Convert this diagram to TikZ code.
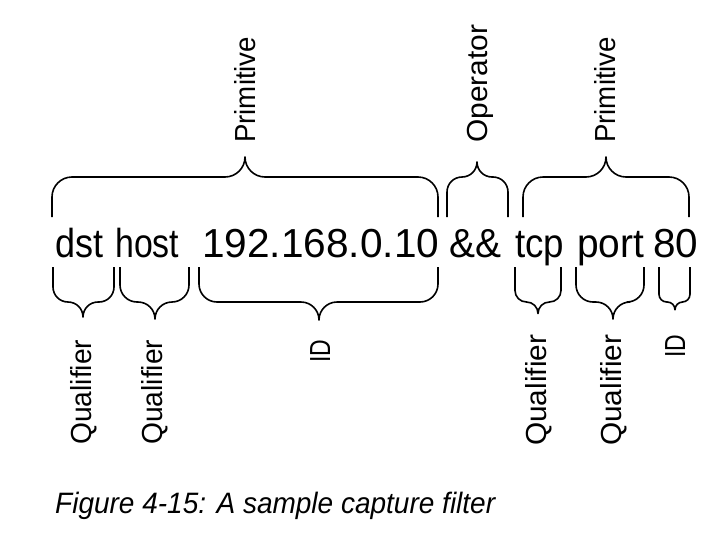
\documentclass[tikz,border=0pt]{standalone}
\usepackage{fontspec}
\setmainfont{Liberation Sans}
\usepackage{graphicx}
\newsavebox\fitbox
\newcommand\fitto[2]{\sbox\fitbox{#2}\pgfmathsetmacro\fitfac{#1/\the\wd\fitbox}\scalebox{\fitfac}[1]{\usebox\fitbox}}
\tikzset{
  brace/.style={line width=1.6pt, line join=round},
  word/.style={inner sep=0pt, anchor=base west, font=\fontsize{40.5}{41}\selectfont},
  lab/.style={inner sep=0pt, anchor=base west, rotate=90, font=\fontsize{29}{30}\selectfont},
  figcap/.style={inner sep=0pt, anchor=base west, font=\itshape\fontsize{29.5}{30}\selectfont}
}
% top brace: x1, tip, x2, r
\newcommand\tbrace[4]{\draw[brace] (#1,217) -- (#1,{177+#4})
  .. controls (#1,{177+0.448*#4}) and ({#1+0.448*#4},177) .. ({#1+#4},177)
  -- ({#2-#4},177)
  .. controls ({#2-0.448*#4},177) and (#2,{177-0.448*#4}) .. (#2,{177-#4})
  .. controls (#2,{177-0.448*#4}) and ({#2+0.448*#4},177) .. ({#2+#4},177)
  -- ({#3-#4},177)
  .. controls ({#3-0.448*#4},177) and (#3,{177+0.448*#4}) .. (#3,{177+#4})
  -- (#3,217);}
% bottom brace: x1, tip, x2, r
\newcommand\bbrace[4]{\draw[brace] (#1,267) -- (#1,{302-#4})
  .. controls (#1,{302-0.448*#4}) and ({#1+0.448*#4},302) .. ({#1+#4},302)
  -- ({#2-#4},302)
  .. controls ({#2-0.448*#4},302) and (#2,{302+0.448*#4}) .. (#2,{302+#4})
  .. controls (#2,{302+0.448*#4}) and ({#2+0.448*#4},302) .. ({#2+#4},302)
  -- ({#3-#4},302)
  .. controls ({#3-0.448*#4},302) and (#3,{302-0.448*#4}) .. (#3,{302-#4})
  -- (#3,267);}
\begin{document}
\begin{tikzpicture}[x=1pt,y=-1pt]
\useasboundingbox[fill=white] (0,0) rectangle (721,536);
% main filter text
\node[word] (dst)  at (55,257)  {\fitto{48}{dst}};
\node[word] (host) at (115,257) {\fitto{64}{host}};
\node[word] (ip)   at (202,257) {\fitto{237}{192.168.0.10}};
\node[word] (and)  at (449,257) {\fitto{52}{\&\&}};
\node[word] (tcp)  at (515,257) {\fitto{49}{tcp}};
\node[word] (port) at (577,257) {\fitto{67}{port}};
\node[word] (num)  at (653,257) {\fitto{45}{80}};
% top braces and labels
\tbrace{52}{245}{438}{20}
\tbrace{447}{477}{508}{15}
\tbrace{523}{606}{689}{20}
\node[lab] (prim1) at (255,143) {\fitto{106}{Primitive}};
\node[lab] (op)    at (487,143) {\fitto{118}{Operator}};
\node[lab] (prim2) at (615,143) {\fitto{106}{Primitive}};
% bottom braces and labels
\bbrace{53}{83}{114}{15}
\bbrace{120}{155}{189}{17}
\bbrace{199}{319}{438}{18}
\bbrace{515}{538}{561}{11.5}
\bbrace{576}{613}{644}{17}
\bbrace{659}{675}{690}{7.75}
\node[lab] (q1)  at (91,445)  {\fitto{105}{Qualifier}};
\node[lab] (q2)  at (162,445) {\fitto{105}{Qualifier}};
\node[lab] (id1) at (330,363) {\fitto{23}{ID}};
\node[lab] (q3)  at (546,446) {\fitto{111}{Qualifier}};
\node[lab] (q4)  at (621,446) {\fitto{111}{Qualifier}};
\node[lab] (id2) at (685,358) {\fitto{23}{ID}};
% caption
\node[figcap] (caption) at (55,513) {\fitto{440}{Figure 4-15: A sample capture filter}};
\end{tikzpicture}
\end{document}
